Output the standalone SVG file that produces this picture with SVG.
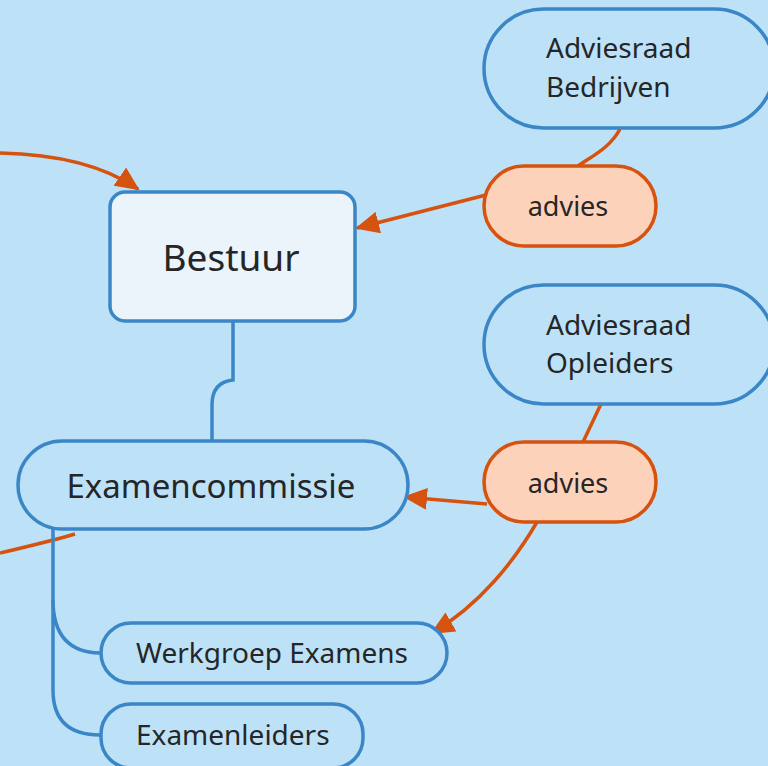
<svg xmlns="http://www.w3.org/2000/svg" width="768" height="766" viewBox="0 0 768 766">
<defs>
<style>
.bg{fill:#bde2f8}
.blue{fill:#bde2f8;stroke:#3a86c6;stroke-width:3.5}
.root{fill:#ebf3fb;stroke:#3a86c6;stroke-width:3.5}
.adv{fill:#fdd2bb;stroke:#d6520f;stroke-width:3.5}
.t{font-family:"Noto Sans","Open Sans",sans-serif;fill:#262626}
.bl{fill:none;stroke:#3a86c6;stroke-width:3.5}
.or{fill:none;stroke:#d6520f;stroke-width:3.5}
</style>
<marker id="arr" viewBox="0 0 24 22" refX="22" refY="11" markerWidth="24" markerHeight="22" markerUnits="userSpaceOnUse" orient="auto">
<path d="M0,0 L24,11 L0,22 Z" fill="#d6520f"/>
</marker>
</defs>
<rect class="bg" x="0" y="0" width="768" height="766"/>
<g id="connectors">
<path class="or" d="M0,153 C50,154 100,163 138,189" marker-end="url(#arr)"/>
<path class="or" d="M486,195 L357,228" marker-end="url(#arr)"/>
<path class="or" d="M620,129 C610,148 592,156 578,166"/>
<path class="bl" d="M233,321 L233,380 Q212,382 212,405 L212,441"/>
<path class="or" d="M601,404 L583,442"/>
<path class="or" d="M487,504 L405,497" marker-end="url(#arr)"/>
<path class="or" d="M537,522 C515,560 480,605 432,633" marker-end="url(#arr)"/>
<path class="or" d="M0,553 C30,546 55,540 75,534"/>
<path class="bl" d="M53,529 L53,600 Q53,652 100,653"/>
<path class="bl" d="M53,600 L53,690 Q53,735 100,735"/>
</g>
<g id="bestuur">
<rect class="root" x="110" y="192" width="245" height="129" rx="15"/>
<text class="t" x="231" y="271" font-size="37" text-anchor="middle">Bestuur</text>
</g>
<g id="adviesraad-bedrijven">
<rect class="blue" x="484" y="9" width="290" height="119" rx="59.5"/>
<text class="t" x="546" y="58" font-size="28">Adviesraad</text>
<text class="t" x="546" y="97" font-size="28">Bedrijven</text>
</g>
<g id="advies-1">
<rect class="adv" x="484" y="166" width="172" height="80" rx="40"/>
<text class="t" x="568" y="216" font-size="27" text-anchor="middle">advies</text>
</g>
<g id="adviesraad-opleiders">
<rect class="blue" x="484" y="285" width="290" height="119" rx="59.5"/>
<text class="t" x="546" y="335" font-size="28">Adviesraad</text>
<text class="t" x="546" y="373" font-size="28">Opleiders</text>
</g>
<g id="advies-2">
<rect class="adv" x="484" y="442" width="172" height="80" rx="40"/>
<text class="t" x="568" y="493" font-size="27" text-anchor="middle">advies</text>
</g>
<g id="examencommissie">
<rect class="blue" x="18" y="441" width="390" height="88" rx="44"/>
<text class="t" x="211" y="498" font-size="33" text-anchor="middle">Examencommissie</text>
</g>
<g id="werkgroep-examens">
<rect class="blue" x="101" y="623" width="346" height="60" rx="30"/>
<text class="t" x="136" y="663" font-size="28">Werkgroep Examens</text>
</g>
<g id="examenleiders">
<rect class="blue" x="101" y="704" width="262" height="64" rx="30"/>
<text class="t" x="136" y="745" font-size="28">Examenleiders</text>
</g>
</svg>
